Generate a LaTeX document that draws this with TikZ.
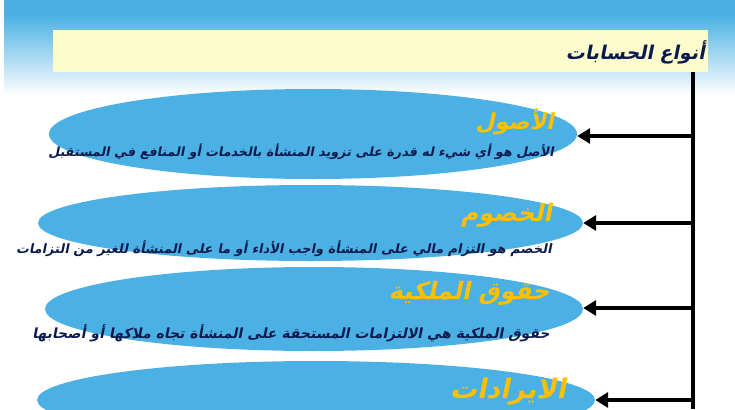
\documentclass[tikz,border=0pt]{standalone}
\usepackage{fontspec}
\usepackage{tikz}
\usetikzlibrary{arrows.meta,positioning,shapes.geometric}
\TeXXeTstate=1
\newfontfamily\arabicfont[Script=Arabic,FakeSlant=0.2]{DejaVu Sans}
\definecolor{skyb}{HTML}{4AB0E3}
\definecolor{ovalb}{HTML}{4BB1E4}
\definecolor{paleyel}{HTML}{FCFCCC}
\definecolor{navy}{HTML}{0B1A4E}
\definecolor{gold}{HTML}{FFC000}
\newcommand{\fsz}[1]{\fontsize{#1}{#1}\selectfont}
\tikzset{
  oval/.style={ellipse,fill=ovalb,draw=none,inner sep=0pt},
  headtxt/.style={anchor=east,inner sep=0pt,text=gold,font=\arabicfont\bfseries\fsz{24}},
  desctxt/.style={anchor=east,inner sep=0pt,text=navy,font=\arabicfont\bfseries\fsz{12.7}},
  toarrow/.style={-{Triangle[length=13pt,width=15pt]},line width=4.5pt}
}
\begin{document}
\begin{tikzpicture}[x=1pt,y=-1pt]
\useasboundingbox (0,0) rectangle (735,409);
% background
\fill[skyb] (4,0) rectangle (735,15);
\shade[top color=skyb,bottom color=white] (4,15) rectangle (735,95);
% title bar
\node[fill=paleyel,minimum width=655pt,minimum height=42pt,inner sep=0pt] (bar) at (380.5,51) {};
\node[anchor=east,inner sep=0pt,text=navy,font=\arabicfont\bfseries\fsz{19}] (title) at (705,52) {\beginR أنواع الحسابات\endR};
% the four ovals
\node[oval,minimum width=528pt,minimum height=90pt] (asl) at (313,134) {};
\node[oval,minimum width=545pt,minimum height=76pt] (khsm) at (310.5,223) {};
\node[oval,minimum width=538pt,minimum height=84pt] (hqq) at (314,309) {};
\node[oval,minimum width=558pt,minimum height=78pt] (ird) at (316,400) {};
% texts
\node[headtxt,font=\arabicfont\bfseries\fsz{22}] (asl h) at (554,122) {\beginR الأصول\endR};
\node[desctxt] (asl d) at (554,152) {\beginR الأصل هو أي شيء له قدرة على تزويد المنشأة بالخدمات أو المنافع في المستقبل\endR};
\node[headtxt] (khsm h) at (552,215) {\beginR الخصوم\endR};
\node[desctxt,font=\arabicfont\bfseries\fsz{12.9}] (khsm d) at (552,249) {\beginR الخصم هو التزام مالي على المنشأة واجب الأداء  أو ما على المنشأة للغير من التزامات\endR};
\node[headtxt] (hqq h) at (550,293) {\beginR حقوق الملكية\endR};
\node[desctxt,font=\arabicfont\bfseries\fsz{14}] (hqq d) at (550,333) {\beginR حقوق الملكية هي الالتزامات المستحقة على المنشأة  تجاه ملاكها أو أصحابها\endR};
\node[headtxt,font=\arabicfont\bfseries\fsz{27}] (ird h) at (566,392) {\beginR الايرادات\endR};
% spine and arrows
\coordinate (top) at (693,72);
\coordinate (bot) at (693,409);
\draw[line width=4.5pt] (top) -- (bot);
\coordinate (s1) at (693,136);
\coordinate (s2) at (693,223);
\coordinate (s3) at (693,308);
\coordinate (s4) at (693,400);
\draw[toarrow] (s1) -- (asl.east |- s1);
\draw[toarrow] (s2) -- (khsm.east);
\draw[toarrow] (s3) -- (hqq.east |- s3);
\draw[toarrow] (s4) -- (ird.east);
\end{tikzpicture}
\end{document}
